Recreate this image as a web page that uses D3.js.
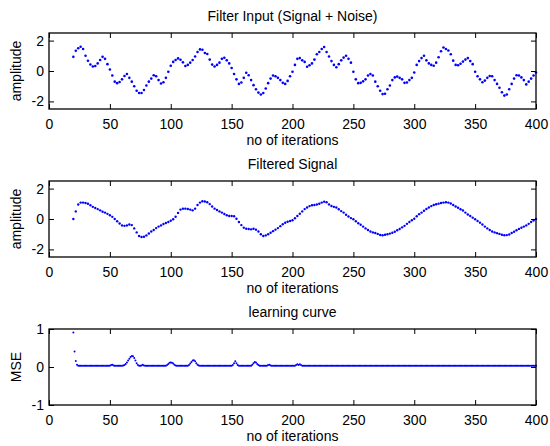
<!doctype html>
<meta charset=utf8>
<title>adaptive filter</title>
<style>
  body {
    margin: 0;
    background: white;
  }

  svg {
    display: block;
    font-family: 'Liberation Sans', Arial, sans-serif;
  }

  .frame {
    fill: none;
    stroke: black;
    stroke-width: 1.3;
  }

  .tick line {
    stroke: black;
  }

  text {
    font-size: 14px;
    fill: black;
  }

  .dot {
    fill: #0000ff;
  }
</style>
<svg width=550 height=446></svg>
<script src=https://d3js.org/d3.v7.min.js></script>
<script>
  // tick labels
  var xTicks = [0, 50, 100, 150, 200, 250, 300, 350, 400];
  var ampTicks = [-2, 0, 2];
  var mseTicks = [-1, 0, 1];

  // filter input (signal + noise), every 2nd iteration from 20 to 400
  var inputIter = d3.range(20, 401, 2);
  var inputValues = [
    0.93, 1.33, 1.5, 1.6, 1.45, 1.0, 0.67, 0.43, 0.3, 0.33,
    0.5, 0.72, 0.93, 0.8, 0.45, 0.1, -0.3, -0.7, -0.8, -0.72,
    -0.55, -0.33, -0.2, -0.45, -0.7, -1.0, -1.3, -1.45, -1.45, -1.25,
    -0.95, -0.7, -0.5, -0.28, -0.35, -0.6, -0.82, -0.74, -0.45, -0.05,
    0.35, 0.6, 0.72, 0.83, 0.74, 0.57, 0.33, 0.4, 0.55, 0.72,
    0.95, 1.25, 1.42, 1.4, 1.18, 1.12, 0.75, 0.42, 0.3, 0.4,
    0.55, 0.8, 0.87, 0.7, 0.5, 0.2, -0.2, -0.55, -0.85, -0.76,
    -0.45, -0.12, -0.28, -0.6, -0.93, -1.2, -1.42, -1.55, -1.45, -1.15,
    -0.8, -0.5, -0.3, -0.35, -0.45, -0.6, -0.78, -0.85, -0.65, -0.35,
    -0.05, 0.4, 0.8, 0.85, 0.7, 0.6, 0.28, 0.38, 0.5, 0.75,
    1.1, 1.25, 1.45, 1.58, 1.25, 0.95, 0.65, 0.4, 0.25, 0.45,
    0.7, 0.88, 1.0, 0.8, 0.55, -0.05, -0.55, -0.8, -0.78, -0.68,
    -0.55, -0.3, -0.2, -0.3, -0.7, -1.0, -1.3, -1.52, -1.5, -1.2,
    -0.95, -0.6, -0.42, -0.37, -0.45, -0.55, -0.78, -0.76, -0.6, -0.45,
    -0.1, 0.4, 0.65, 0.85, 1.0, 0.7, 0.5, 0.4, 0.35, 0.55,
    0.9, 1.3, 1.55, 1.45, 1.35, 1.1, 0.68, 0.4, 0.38, 0.48,
    0.62, 0.75, 0.85, 0.65, 0.45, -0.05, -0.35, -0.55, -0.74, -0.63,
    -0.45, -0.33, -0.35, -0.6, -0.85, -1.1, -1.4, -1.62, -1.55, -1.2,
    -0.85, -0.5, -0.28, -0.3, -0.42, -0.6, -0.88, -0.7, -0.5, -0.3,
    -0.1
  ];

  // filtered signal, every 2nd iteration from 20 to 400
  var filteredIter = d3.range(20, 401, 2);
  var filteredValues = [
    0.0, 0.5, 0.95, 1.08, 1.08, 1.05, 1.0, 0.9, 0.8, 0.72,
    0.65, 0.57, 0.48, 0.42, 0.34, 0.25, 0.14, 0.0, -0.15, -0.3,
    -0.42, -0.45, -0.42, -0.36, -0.4, -0.62, -0.88, -1.12, -1.18, -1.17,
    -1.08, -0.95, -0.82, -0.72, -0.6, -0.5, -0.42, -0.33, -0.26, -0.2,
    -0.12, -0.02, 0.15, 0.4, 0.62, 0.68, 0.68, 0.66, 0.62, 0.57,
    0.68, 0.92, 1.08, 1.17, 1.15, 1.1, 0.98, 0.82, 0.68, 0.59,
    0.5, 0.42, 0.33, 0.25, 0.2, 0.2, 0.18, 0.02, -0.2, -0.4,
    -0.57, -0.64, -0.66, -0.68, -0.64, -0.7, -0.82, -1.0, -1.12, -1.08,
    -1.0, -0.9, -0.8, -0.7, -0.6, -0.47, -0.35, -0.25, -0.18, -0.13,
    -0.08, 0.05, 0.2, 0.35, 0.5, 0.65, 0.76, 0.85, 0.9, 0.92,
    0.95, 1.0, 1.08, 1.14, 1.1, 0.96, 0.86, 0.8, 0.76, 0.64,
    0.52, 0.42, 0.28, 0.16, 0.06, -0.02, -0.15, -0.28, -0.38, -0.5,
    -0.62, -0.72, -0.82, -0.88, -0.92, -0.98, -1.05, -1.07, -1.04, -1.0,
    -0.96, -0.9, -0.84, -0.74, -0.66, -0.55, -0.45, -0.32, -0.2, -0.08,
    0.02, 0.18, 0.32, 0.42, 0.54, 0.66, 0.76, 0.85, 0.92, 0.97,
    1.01, 1.05, 1.08, 1.1, 1.08, 1.02, 0.92, 0.82, 0.74, 0.64,
    0.56, 0.42, 0.3, 0.2, 0.09, -0.02, -0.13, -0.24, -0.36, -0.5,
    -0.62, -0.72, -0.82, -0.88, -0.93, -0.98, -1.04, -1.07, -1.06, -1.02,
    -0.92, -0.84, -0.74, -0.65, -0.58, -0.5, -0.42, -0.32, -0.2, -0.1,
    0.0
  ];

  // learning curve (MSE), every iteration from 20 to 400
  var mseIter = d3.range(20, 401, 1);
  var mseValues = [
    0.91, 0.41, 0.16, 0.06, 0.03, 0.03, 0.03, 0.03, 0.03, 0.03, 0.03, 0.03, 0.03, 0.03, 0.03, 0.03, 0.03, 0.03, 0.03, 0.03,
    0.03, 0.03, 0.03, 0.03, 0.03, 0.03, 0.03, 0.03, 0.03, 0.03, 0.03, 0.05, 0.06, 0.04, 0.03, 0.03, 0.03, 0.03, 0.03, 0.03,
    0.03, 0.04, 0.05, 0.08, 0.12, 0.17, 0.22, 0.26, 0.29, 0.28, 0.24, 0.17, 0.10, 0.05, 0.03, 0.03, 0.04, 0.06, 0.04, 0.03,
    0.03, 0.03, 0.03, 0.03, 0.03, 0.03, 0.03, 0.03, 0.03, 0.03, 0.03, 0.03, 0.03, 0.03, 0.03, 0.03, 0.03, 0.05, 0.08, 0.11,
    0.12, 0.11, 0.09, 0.06, 0.04, 0.03, 0.03, 0.03, 0.03, 0.03, 0.03, 0.03, 0.03, 0.03, 0.03, 0.05, 0.09, 0.13, 0.17, 0.18,
    0.15, 0.10, 0.06, 0.04, 0.03, 0.03, 0.03, 0.03, 0.03, 0.03, 0.03, 0.03, 0.03, 0.03, 0.03, 0.03, 0.03, 0.03, 0.03, 0.03,
    0.03, 0.03, 0.03, 0.03, 0.03, 0.03, 0.03, 0.03, 0.03, 0.03, 0.03, 0.05, 0.10, 0.15, 0.10, 0.05, 0.03, 0.03, 0.03, 0.03,
    0.03, 0.03, 0.03, 0.03, 0.03, 0.03, 0.03, 0.06, 0.10, 0.13, 0.12, 0.08, 0.05, 0.03, 0.03, 0.03, 0.03, 0.03, 0.03, 0.03,
    0.05, 0.06, 0.04, 0.03, 0.03, 0.03, 0.03, 0.03, 0.03, 0.03, 0.03, 0.03, 0.03, 0.03, 0.03, 0.03, 0.03, 0.03, 0.03, 0.03,
    0.03, 0.03, 0.03, 0.05, 0.07, 0.05, 0.07, 0.05, 0.03, 0.03, 0.03, 0.03, 0.03, 0.03, 0.03, 0.03, 0.03, 0.03, 0.03, 0.03,
    0.03, 0.03, 0.03, 0.03, 0.03, 0.03, 0.03, 0.03, 0.03, 0.03, 0.03, 0.03, 0.03, 0.03, 0.03, 0.03, 0.03, 0.03, 0.03, 0.03,
    0.03, 0.03, 0.03, 0.03, 0.03, 0.03, 0.03, 0.03, 0.03, 0.03, 0.03, 0.03, 0.03, 0.03, 0.03, 0.03, 0.03, 0.03, 0.03, 0.03,
    0.03, 0.03, 0.03, 0.03, 0.03, 0.03, 0.03, 0.03, 0.03, 0.03, 0.03, 0.03, 0.03, 0.03, 0.03, 0.03, 0.03, 0.03, 0.03, 0.03,
    0.03, 0.03, 0.03, 0.03, 0.03, 0.03, 0.03, 0.03, 0.03, 0.03, 0.03, 0.03, 0.03, 0.03, 0.03, 0.03, 0.03, 0.03, 0.03, 0.03,
    0.03, 0.03, 0.03, 0.03, 0.03, 0.03, 0.03, 0.03, 0.03, 0.03, 0.03, 0.03, 0.03, 0.03, 0.03, 0.03, 0.03, 0.03, 0.03, 0.03,
    0.03, 0.03, 0.03, 0.03, 0.03, 0.03, 0.03, 0.03, 0.03, 0.03, 0.03, 0.03, 0.03, 0.03, 0.03, 0.03, 0.03, 0.03, 0.03, 0.03,
    0.03, 0.03, 0.03, 0.03, 0.03, 0.03, 0.03, 0.03, 0.03, 0.03, 0.03, 0.03, 0.03, 0.03, 0.03, 0.03, 0.03, 0.03, 0.03, 0.03,
    0.03, 0.03, 0.03, 0.03, 0.03, 0.03, 0.03, 0.03, 0.03, 0.03, 0.03, 0.03, 0.03, 0.03, 0.03, 0.03, 0.03, 0.03, 0.03, 0.03,
    0.03, 0.03, 0.03, 0.03, 0.03, 0.03, 0.03, 0.03, 0.03, 0.03, 0.03, 0.03, 0.03, 0.03, 0.03, 0.03, 0.03, 0.03, 0.03, 0.03,
    0.03
  ];

  var svg = d3.select('svg');
  var left = 49;
  var right = 536;

  var panels = [
    {title: 'Filter Input (Signal + Noise)', ylabel: 'amplitude', top: 33, bottom: 109,
      domain: [-2.5, 2.5], ticks: ampTicks, iter: inputIter, values: inputValues, r: 1.3},
    {title: 'Filtered Signal', ylabel: 'amplitude', top: 181, bottom: 257,
      domain: [-2.5, 2.5], ticks: ampTicks, iter: filteredIter, values: filteredValues, r: 1.2},
    {title: 'learning curve', ylabel: 'MSE', top: 329, bottom: 405,
      domain: [-1, 1], ticks: mseTicks, iter: mseIter, values: mseValues, r: 1}
  ];

  var x = d3.scaleLinear().domain([0, 400]).range([left, right]);

  function label(d) {
    return String(d); // plain hyphen minus, like the original
  }

  panels.forEach(function(p) {
    var y = d3.scaleLinear().domain(p.domain).range([p.bottom, p.top]);
    var g = svg.append('g');
    var n = Math.min(p.iter.length, p.values.length);
    var points = d3.range(n).map(function(i) {
      return {it: p.iter[i], v: p.values[i]};
    });

    g.selectAll('.dot')
      .data(points)
      .enter()
      .append('circle')
      .attr('class', 'dot')
      .attr('cx', function(d) { return x(d.it); })
      .attr('cy', function(d) { return y(d.v); })
      .attr('r', p.r);

    // ticks point inward on all four sides
    g.append('g')
      .attr('transform', 'translate(0,' + p.bottom + ')')
      .call(d3.axisBottom(x).tickValues(xTicks).tickFormat(label)
        .tickSizeInner(-5).tickSizeOuter(0).tickPadding(10))
      .call(clean);

    g.append('g')
      .attr('transform', 'translate(0,' + p.top + ')')
      .call(d3.axisTop(x).tickValues(xTicks).tickFormat('')
        .tickSizeInner(-5).tickSizeOuter(0))
      .call(clean);

    g.append('g')
      .attr('transform', 'translate(' + left + ',0)')
      .call(d3.axisLeft(y).tickValues(p.ticks).tickFormat(label)
        .tickSizeInner(-5).tickSizeOuter(0).tickPadding(5))
      .call(clean);

    g.append('g')
      .attr('transform', 'translate(' + right + ',0)')
      .call(d3.axisRight(y).tickValues(p.ticks).tickFormat('')
        .tickSizeInner(-5).tickSizeOuter(0))
      .call(clean);

    g.append('rect')
      .attr('class', 'frame')
      .attr('x', left)
      .attr('y', p.top)
      .attr('width', right - left)
      .attr('height', p.bottom - p.top);

    g.append('text')
      .attr('x', (left + right) / 2)
      .attr('y', p.top - 12)
      .attr('text-anchor', 'middle')
      .text(p.title);

    g.append('text')
      .attr('x', (left + right) / 2)
      .attr('y', p.bottom + 36)
      .attr('text-anchor', 'middle')
      .text('no of iterations');

    g.append('text')
      .attr('transform', 'translate(21,' + (p.top + p.bottom) / 2 + ') rotate(-90)')
      .attr('text-anchor', 'middle')
      .text(p.ylabel);
  });

  function clean(sel) {
    sel.select('.domain').remove();
    sel.attr('font-family', null).attr('font-size', null);
    sel.selectAll('text').attr('fill', null);
  }
</script>
